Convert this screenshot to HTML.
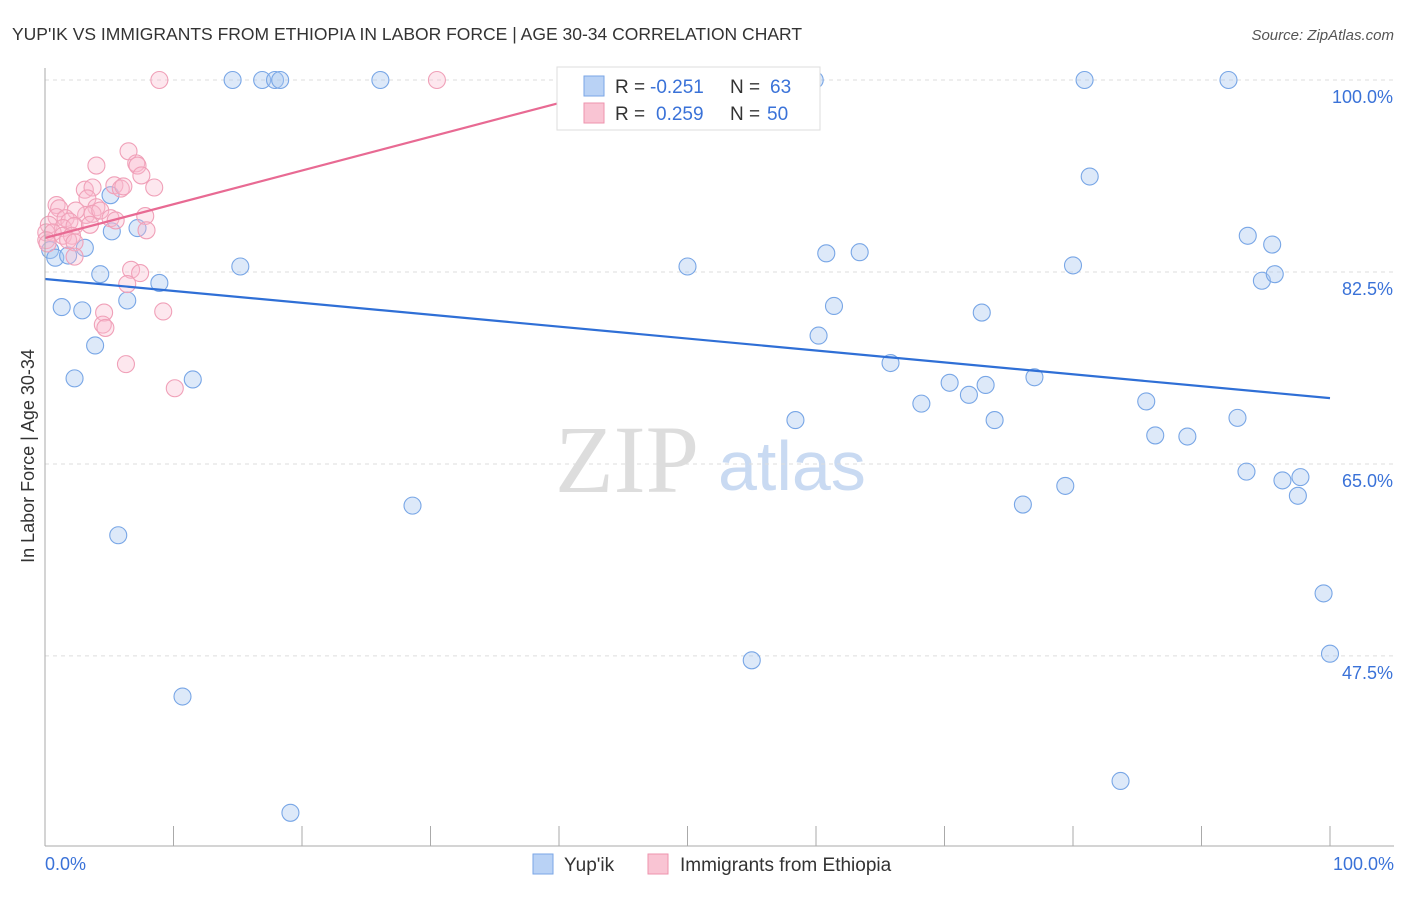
<!DOCTYPE html>
<html><head><meta charset="utf-8"><style>
body{margin:0;background:#fff;font-family:"Liberation Sans",sans-serif}
</style></head><body>
<svg id="c" width="1406" height="892" xmlns="http://www.w3.org/2000/svg" font-family="Liberation Sans, sans-serif">
<text x="12" y="40" font-size="17.5" fill="#333">YUP'IK VS IMMIGRANTS FROM ETHIOPIA IN LABOR FORCE | AGE 30-34 CORRELATION CHART</text>
<text x="1394" y="40" font-size="15" fill="#555" font-style="italic" text-anchor="end">Source: ZipAtlas.com</text>
<text x="34" y="456" font-size="18" fill="#333" transform="rotate(-90 34 456)" text-anchor="middle">In Labor Force | Age 30-34</text>
<text x="555" y="492" font-size="96" fill="#ddd" font-family="Liberation Serif, serif">ZIP</text>
<text x="718" y="490" font-size="70" fill="#c9daf2">atlas</text>
<g id="grid"></g><g id="pts"></g><g id="lines"></g>
<line x1="45" y1="68" x2="45" y2="846" stroke="#aaa"/>
<line x1="45" y1="846" x2="1394" y2="846" stroke="#aaa"/>
<text x="45" y="870" font-size="18" fill="#3a72d8">0.0%</text>
<text x="1394" y="870" font-size="18" fill="#3a72d8" text-anchor="end">100.0%</text>
<g>
<rect x="557" y="67" width="263" height="63" fill="#fff" stroke="#ddd"/>
<rect x="584" y="76" width="20" height="20" fill="#b9d2f5" stroke="#7aa6e6"/>
<rect x="584" y="103" width="20" height="20" fill="#f9c4d3" stroke="#ee93ae"/>
<text x="615" y="93" font-size="19" fill="#333">R =</text>
<text x="650" y="93" font-size="19" fill="#3a72d8">-0.251</text>
<text x="730" y="93" font-size="19" fill="#333">N =</text>
<text x="770" y="93" font-size="19" fill="#3a72d8">63</text>
<text x="615" y="120" font-size="19" fill="#333">R =</text>
<text x="656" y="120" font-size="19" fill="#3a72d8">0.259</text>
<text x="730" y="120" font-size="19" fill="#333">N =</text>
<text x="767" y="120" font-size="19" fill="#3a72d8">50</text>
</g>
<g>
<rect x="533" y="854" width="20" height="20" fill="#b9d2f5" stroke="#7aa6e6"/>
<text x="564" y="871" font-size="19" fill="#333">Yup'ik</text>
<rect x="648" y="854" width="20" height="20" fill="#f9c4d3" stroke="#ee93ae"/>
<text x="680" y="871" font-size="19" fill="#333">Immigrants from Ethiopia</text>
</g>
</svg>
<script>
const yTicks=[100,82.5,65,47.5];
const yTickLabels=["100.0%","82.5%","65.0%","47.5%"];
const blueX=[14.6,16.9,17.9,18.3,26.1,41.6,59.9,80.9,92.1,81.3,5.1,5.2,7.2,3.1,0.4,0.8,1.8,4.3,6.4,8.9,15.2,1.3,2.9,3.9,2.3,11.5,50.0,60.8,63.4,61.4,60.2,72.9,80.0,93.6,95.5,94.7,95.7,65.8,70.4,73.2,68.2,71.9,77.0,73.9,58.4,85.7,86.4,88.9,92.8,93.5,96.3,97.7,97.5,76.1,79.4,28.6,5.7,99.5,100,55.0,10.7,83.7,19.1];
const blueY=[100,100,100,100,100,100,100,100,100,91.2,89.5,86.2,86.5,84.7,84.5,83.8,84.0,82.3,79.9,81.5,83.0,79.3,79.0,75.8,72.8,72.7,83.0,84.2,84.3,79.4,76.7,78.8,83.1,85.8,85.0,81.7,82.3,74.2,72.4,72.2,70.5,71.3,72.9,69.0,69.0,70.7,67.6,67.5,69.2,64.3,63.5,63.8,62.1,61.3,63.0,61.2,58.5,53.2,47.7,47.1,43.8,36.1,33.2];
const pinkX=[8.9,30.5,6.5,4.0,7.1,7.2,7.5,3.1,3.7,5.4,5.9,6.1,8.5,0.9,1.1,3.3,4.0,3.2,2.4,3.7,4.3,5.1,5.5,7.8,0.9,1.6,1.9,0.3,1.4,2.3,3.5,0.1,0.6,1.4,2.1,1.8,2.3,0.1,0.2,2.3,7.9,6.7,7.4,6.4,4.6,4.5,4.7,9.2,6.3,10.1];
const pinkY=[100,100,93.5,92.2,92.4,92.2,91.3,90.0,90.2,90.4,90.1,90.3,90.2,88.6,88.3,89.2,88.4,87.7,88.1,87.8,88.1,87.4,87.2,87.6,87.5,87.4,87.1,86.8,86.5,86.7,86.8,86.1,86.1,85.8,85.8,85.4,85.2,85.4,85.1,83.9,86.3,82.7,82.4,81.4,78.8,77.7,77.4,78.9,74.1,71.9];
const blueTrend=[81.86,71.0];
const pinkTrend=[85.6,97.9];
const xs=v=>45+v*12.85, ys=v=>80+(100-v)*10.97;
const NS="http://www.w3.org/2000/svg";
function mk(t,a,p){const e=document.createElementNS(NS,t);for(const k in a)e.setAttribute(k,a[k]);p.appendChild(e);return e;}
const grid=document.getElementById('grid'),pts=document.getElementById('pts'),lines=document.getElementById('lines');
yTicks.forEach((v,i)=>{
 const l=mk('line',{x1:45,x2:1394,y1:ys(v),y2:ys(v),stroke:'#ddd','stroke-dasharray':'4,4'},grid);
 
 
 const t=mk('text',{x:1393,y:ys(v)+23,'font-size':18,fill:'#3a72d8','text-anchor':'end'},grid);
 t.textContent=yTickLabels[i];
 
 
});
for(let i=1;i<=10;i++){
 const l=mk('line',{x1:xs(i*10),x2:xs(i*10),y1:826,y2:846,stroke:'#aaa'},grid);
 
 
}
blueX.forEach((x,i)=>{
 const c=mk('circle',{cx:xs(x),cy:ys(blueY[i]),r:8.5,fill:'rgba(170,200,240,0.4)',stroke:'#78a6e6','stroke-width':1.1},pts);
 
 
});
pinkX.forEach((x,i)=>{
 const c=mk('circle',{cx:xs(x),cy:ys(pinkY[i]),r:8.5,fill:'rgba(248,185,205,0.35)',stroke:'#f0a0b8','stroke-width':1.1},pts);
 
 
});
const bl=mk('line',{x1:xs(0),y1:ys(blueTrend[0]),x2:xs(100),y2:ys(blueTrend[1]),stroke:'#2f6fd6','stroke-width':2.2},lines);


const pl=mk('line',{x1:xs(0),y1:ys(pinkTrend[0]),x2:xs(40),y2:ys(pinkTrend[1]),stroke:'#e86a93','stroke-width':2.2},lines);


</script>
</body></html>
